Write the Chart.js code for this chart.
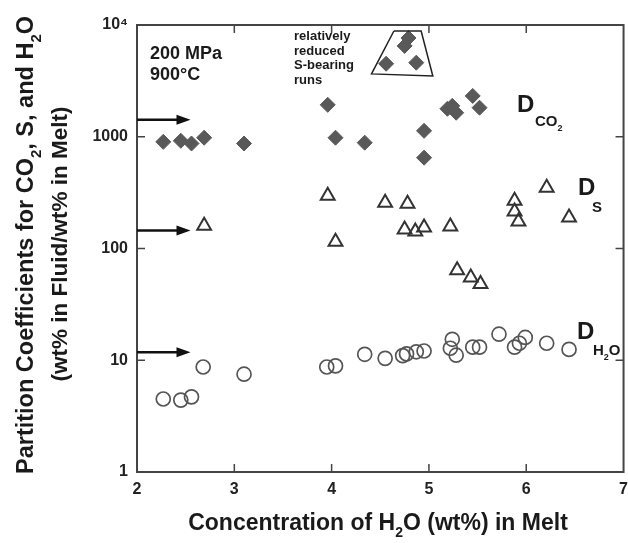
<!DOCTYPE html>
<html>
<head>
<meta charset="utf-8">
<script src="https://cdn.jsdelivr.net/npm/chart.js@4.4.1/dist/chart.umd.min.js"></script>
<style>
  html, body { margin: 0; padding: 0; background: #fff; overflow: hidden; }
</style>
</head>
<body>
<canvas id="chart" width="636" height="543"></canvas>
<script>
// Partition coefficients vs. H2O in melt (200 MPa, 900 °C)

// D_CO2 (filled diamonds)
const co2X = [2.27, 2.45, 2.56, 2.69, 3.10, 3.96, 4.04, 4.34, 4.95, 4.95, 4.56, 4.75, 4.79, 4.87, 5.19, 5.24, 5.28, 5.45, 5.52];
const co2Y = [900, 920, 870, 980, 870, 1930, 980, 885, 1130, 650, 4500, 6500, 7650, 4600, 1780, 1890, 1640, 2320, 1820];

// D_S (open triangles)
const sX = [2.69, 3.96, 4.04, 4.55, 4.78, 4.75, 4.86, 4.95, 5.22, 5.29, 5.43, 5.53, 5.88, 5.88, 5.92, 6.21, 6.44];
const sY = [160, 297, 115, 257, 252, 148, 142, 154, 157, 64, 55, 48, 268, 214, 174, 350, 189];

// D_H2O (open circles)
const h2oX = [2.27, 2.45, 2.56, 2.68, 3.10, 3.95, 4.04, 4.34, 4.55, 4.73, 4.77, 4.87, 4.95, 5.22, 5.24, 5.28, 5.45, 5.52, 5.72, 5.88, 5.93, 5.99, 6.21, 6.44];
const h2oY = [4.5, 4.4, 4.7, 8.7, 7.5, 8.7, 8.9, 11.3, 10.4, 11.0, 11.4, 11.9, 12.1, 12.8, 15.4, 11.1, 13.1, 13.1, 17.1, 13.1, 14.2, 16.0, 14.2, 12.5];

// outline round the "relatively reduced S-bearing runs"
const trapX = [4.64, 4.92, 5.04, 4.41, 4.64];
const trapY = [8840, 8840, 3500, 3650, 8840];

// arrows on the left axis
const arrowY = [1420, 145, 11.8];
const arrowTipX = 2.55;

const xTicks = [2, 3, 4, 5, 6, 7];
const yTicks = [1, 10, 100, 1000, 10000];

const FONT = '"Liberation Sans", Arial, sans-serif';
const pts = (xs, ys) => xs.map((x, i) => ({ x, y: ys[i] }));

// draws text with small lowered pieces for subscripts
function rich(ctx, parts, x, y, size, align) {
  const f = (sub) => `bold ${sub ? Math.round(size * 0.62) : size}px ${FONT}`;
  let w = 0;
  parts.forEach(([t, sub]) => { ctx.font = f(sub); w += ctx.measureText(t).width; });
  let cx = align === "center" ? x - w / 2 : x;
  parts.forEach(([t, sub]) => {
    ctx.font = f(sub);
    ctx.fillText(t, cx, sub ? y + size * 0.32 : y);
    cx += ctx.measureText(t).width;
  });
}

const decor = {
  id: "decor",
  afterDraw(chart) {
    const { ctx, chartArea: a, scales: { x, y } } = chart;
    ctx.save();

    // frame + inward ticks
    ctx.strokeStyle = "#444";
    ctx.lineWidth = 2;
    ctx.strokeRect(a.left, a.top, a.right - a.left, a.bottom - a.top);
    ctx.lineWidth = 1.5;
    ctx.beginPath();
    yTicks.slice(1, -1).forEach((v) => {
      const py = y.getPixelForValue(v);
      ctx.moveTo(a.left, py); ctx.lineTo(a.left + 8, py);
      ctx.moveTo(a.right, py); ctx.lineTo(a.right - 8, py);
    });
    xTicks.slice(1, -1).forEach((v) => {
      const px = x.getPixelForValue(v);
      ctx.moveTo(px, a.bottom); ctx.lineTo(px, a.bottom - 8);
      ctx.moveTo(px, a.top); ctx.lineTo(px, a.top + 8);
    });
    ctx.stroke();

    // arrows
    ctx.fillStyle = ctx.strokeStyle = "#111";
    ctx.lineWidth = 2.5;
    const tip = x.getPixelForValue(arrowTipX);
    arrowY.forEach((v) => {
      const py = y.getPixelForValue(v);
      ctx.beginPath();
      ctx.moveTo(a.left, py); ctx.lineTo(tip - 10, py);
      ctx.stroke();
      ctx.beginPath();
      ctx.moveTo(tip, py); ctx.lineTo(tip - 14, py - 5); ctx.lineTo(tip - 14, py + 5);
      ctx.closePath(); ctx.fill();
    });

    // texts
    ctx.fillStyle = "#1a1a1a";
    ctx.textBaseline = "alphabetic";
    ctx.textAlign = "left";
    rich(ctx, [["200 MPa"]], 150, 59, 18, "left");
    rich(ctx, [["900°C"]], 150, 80, 18, "left");
    ["relatively", "reduced", "S-bearing", "runs"].forEach((t, i) =>
      rich(ctx, [[t]], 294, 40 + i * 14.5, 13, "left"));

    rich(ctx, [["D"]], 517, 112, 24, "left");
    rich(ctx, [["CO"], ["2", true]], 535, 126, 15, "left");
    rich(ctx, [["D"]], 578, 195, 24, "left");
    rich(ctx, [["S"]], 592, 212, 15, "left");
    rich(ctx, [["D"]], 577, 339, 24, "left");
    rich(ctx, [["H"], ["2", true], ["O"]], 593, 355, 15, "left");

    // axis titles
    rich(ctx, [["Concentration of H"], ["2", true], ["O (wt%) in Melt"]], 378, 530, 23, "center");
    ctx.save();
    ctx.translate(33, 245);
    ctx.rotate(-Math.PI / 2);
    rich(ctx, [["Partition Coefficients for CO"], ["2", true], [", S, and H"], ["2", true], ["O"]], 0, 0, 23.5, "center");
    ctx.restore();
    ctx.save();
    ctx.translate(67, 244);
    ctx.rotate(-Math.PI / 2);
    rich(ctx, [["(wt% in Fluid/wt% in Melt)"]], 0, 0, 22.5, "center");
    ctx.restore();

    ctx.restore();
  },
};

const tickFont = { family: FONT, size: 16, weight: "bold" };

new Chart(document.getElementById("chart"), {
  type: "scatter",
  data: {
    datasets: [
      { data: pts(trapX, trapY), showLine: true, pointRadius: 0, borderColor: "#222",
        borderWidth: 1.5, fill: false, tension: 0 },
      { data: pts(co2X, co2Y), pointStyle: "rectRot", pointRadius: 7.5,
        backgroundColor: "#595959", borderColor: "#595959", borderWidth: 1 },
      { data: pts(sX, sY), pointStyle: "triangle", pointRadius: 8,
        backgroundColor: "rgba(0,0,0,0)", borderColor: "#333", borderWidth: 2 },
      { data: pts(h2oX, h2oY), pointStyle: "circle", pointRadius: 7,
        backgroundColor: "rgba(0,0,0,0)", borderColor: "#555", borderWidth: 1.7 },
    ],
  },
  options: {
    responsive: false,
    animation: false,
    devicePixelRatio: 1,
    layout: { padding: { top: 25, right: 0, left: 0, bottom: 0 } },
    plugins: { legend: { display: false }, tooltip: { enabled: false } },
    scales: {
      x: {
        type: "linear", min: 2, max: 7,
        afterBuildTicks: (s) => { s.ticks = xTicks.map((v) => ({ value: v })); },
        afterFit: (s) => { s.height = 71; },
        grid: { display: false, drawTicks: false }, border: { display: false },
        ticks: { font: tickFont, color: "#222", padding: 8, maxRotation: 0, autoSkip: false },
      },
      y: {
        type: "logarithmic", min: 1, max: 10000,
        afterBuildTicks: (s) => { s.ticks = yTicks.map((v) => ({ value: v })); },
        afterFit: (s) => { s.width = 137; },
        grid: { display: false, drawTicks: false }, border: { display: false },
        ticks: { font: tickFont, color: "#222", padding: 9, autoSkip: false,
          callback: (v) => (v === 10000 ? "10⁴" : String(v)) },
      },
    },
  },
  plugins: [decor],
});
</script>
</body>
</html>
